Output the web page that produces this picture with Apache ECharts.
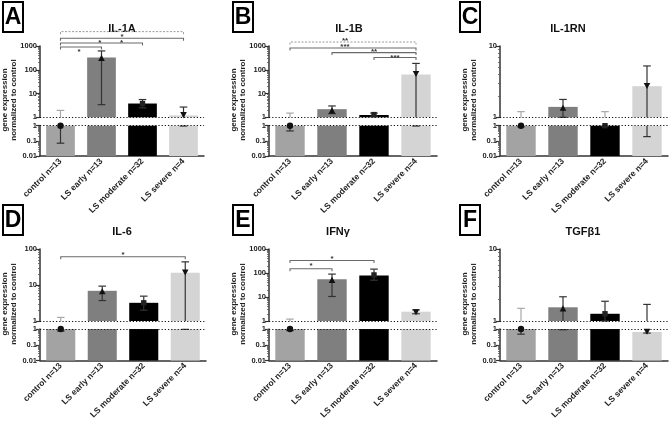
<!DOCTYPE html>
<html><head><meta charset="utf-8">
<script src="https://cdn.jsdelivr.net/npm/echarts@6/dist/echarts.min.js"></script>
<style>html,body{margin:0;padding:0;background:#fff}#c{width:670px;height:423px}</style>
</head><body><div id="c"></div>
<script>
// ---------- DATA ----------
const categories = ['control n=13', 'LS early n=13', 'LS moderate n=32', 'LS severe n=4'];
const panelLetters = ['A', 'B', 'C', 'D', 'E', 'F'];
const panelTitles = ['IL-1A', 'IL-1B', 'IL-1RN', 'IL-6', 'IFNγ', 'TGFβ1'];
const upperMax = [1000, 1000, 10, 100, 1000, 10];
const lowerMin = 0.01;
const yAxisName = 'gene expression\nnormalized to control';

// bar height, marker, error low, error high (per category)
const il1aBar = [1, 330, 3.8, 1.2];
const il1aMarker = [1, 300, 3.8, 1.3];
const il1aLow = [0.07, 3.4, 2.5, 0.95];
const il1aHigh = [1.95, 620, 5.6, 2.7];

const il1bBar = [1, 2.2, 1.25, 63];
const il1bMarker = [1, 1.85, 1.3, 70];
const il1bLow = [0.45, 1.43, 1.1, 0.95];
const il1bHigh = [1.5, 3.0, 1.5, 185];

const il1rnBar = [1, 1.4, 1, 2.73];
const il1rnMarker = [1, 1.34, 1, 2.8];
const il1rnLow = [0.85, 1.0, 0.9, 0.19];
const il1rnHigh = [1.2, 1.78, 1.2, 5.25];

const il6Bar = [1, 6.9, 3.2, 22];
const il6Marker = [1, 6.5, 3.2, 23];
const il6Low = [0.74, 3.7, 2.0, 0.95];
const il6High = [1.26, 9.3, 4.9, 44];

const ifngBar = [1, 55, 79, 2.45];
const ifngMarker = [1, 49, 83, 2.45];
const ifngLow = [0.8, 10.5, 50, 2.0];
const ifngHigh = [1.2, 90, 145, 2.9];

const tgfb1Bar = [1, 1.55, 1.26, 0.65];
const tgfb1Marker = [1, 1.47, 1.26, 0.72];
const tgfb1Low = [0.47, 0.9, 1.0, 0.55];
const tgfb1High = [1.5, 2.17, 1.88, 1.7];

// significance brackets: [fromCategory, toCategory, yValue, dashed(1/0)]
const il1aBrackets = [[0, 3, 4020, 1], [0, 3, 2110, 0], [0, 2, 1340, 0], [0, 1, 906, 0]];
const il1bBrackets = [[0, 3, 1470, 1], [0, 3, 824, 0], [1, 3, 528, 0], [2, 3, 326, 0]];
const il1rnBrackets = [];
const il6Brackets = [[0, 3, 61, 0]];
const ifngBrackets = [[0, 2, 333, 0], [0, 1, 150, 0]];
const tgfb1Brackets = [];
// stars: [categoryPosition, yValue, numberOfStars]
const il1aStars = [[1.5, 2910, 1], [0.96, 1675, 1], [1.49, 1675, 1], [0.45, 676, 1]];
const il1bStars = [[1.31, 2040, 2], [1.31, 1150, 3], [2.0, 660, 2], [2.5, 380, 3]];
const il1rnStars = [];
const il6Stars = [[1.5, 79, 1]];
const ifngStars = [[1.0, 490, 1], [0.5, 235, 1]];
const tgfb1Stars = [];

// ---------- BUILD ----------
const panels = [
  {bar: il1aBar, mark: il1aMarker, lo: il1aLow, hi: il1aHigh, br: il1aBrackets, st: il1aStars},
  {bar: il1bBar, mark: il1bMarker, lo: il1bLow, hi: il1bHigh, br: il1bBrackets, st: il1bStars},
  {bar: il1rnBar, mark: il1rnMarker, lo: il1rnLow, hi: il1rnHigh, br: il1rnBrackets, st: il1rnStars},
  {bar: il6Bar, mark: il6Marker, lo: il6Low, hi: il6High, br: il6Brackets, st: il6Stars},
  {bar: ifngBar, mark: ifngMarker, lo: ifngLow, hi: ifngHigh, br: ifngBrackets, st: ifngStars},
  {bar: tgfb1Bar, mark: tgfb1Marker, lo: tgfb1Low, hi: tgfb1High, br: tgfb1Brackets, st: tgfb1Stars}
];

const FONT = 'Liberation Sans, Arial, sans-serif';
const barColors = ['#a3a3a3', '#7f7f7f', '#000000', '#d4d4d4'];
const geom = [
  {left: 40, width: 164, row: 0, titleX: 122, boxX: 3},
  {left: 269, width: 168, row: 0, titleX: 349, boxX: 233},
  {left: 500, width: 168, row: 0, titleX: 568, boxX: 460},
  {left: 40, width: 166, row: 1, titleX: 122, boxX: 3},
  {left: 269, width: 168, row: 1, titleX: 338, boxX: 233},
  {left: 500, width: 168, row: 1, titleX: 583, boxX: 460}
];
const rows = [
  {ut: 46, uh: 71.3, lt: 125.7, lh: 30.3, titleY: 28.5, boxY: 2, nameY: 100},
  {ut: 249, uh: 72, lt: 329, lh: 31.5, titleY: 231.5, boxY: 205, nameY: 304}
];

function markerShape(i, x, y) {
  const c = '#111';
  if (i === 0) return {type: 'circle', shape: {cx: x, cy: y, r: 3.2}, style: {fill: c}};
  if (i === 1) return {type: 'polygon', shape: {points: [[x, y - 3.6], [x - 3.3, y + 2.5], [x + 3.3, y + 2.5]]}, style: {fill: c}};
  if (i === 2) return {type: 'rect', shape: {x: x - 2.7, y: y - 2.7, width: 5.4, height: 5.4}, style: {fill: '#222'}};
  return {type: 'polygon', shape: {points: [[x, y + 3.6], [x - 3.3, y - 2.5], [x + 3.3, y - 2.5]]}, style: {fill: c}};
}
function seg(x1, y1, x2, y2, color, w) {
  return {type: 'line', shape: {x1, y1, x2, y2}, style: {stroke: color, lineWidth: w || 1.2}};
}
function tickFmt(v) { return String(+Number(v).toPrecision(6)); }

const grids = [], xAxes = [], yAxes = [], series = [], graphics = [];
const axisColor = '#333';
const dotLine = {type: [1.2, 2], color: '#111', width: 1.2};

panels.forEach((p, k) => {
  const g = geom[k], r = rows[g.row];
  const gu = 2 * k, gl = 2 * k + 1;
  grids.push({left: g.left, top: r.ut, width: g.width, height: r.uh});
  grids.push({left: g.left, top: r.lt, width: g.width, height: r.lh});
  xAxes.push({type: 'category', gridIndex: gu, data: categories, show: false});
  xAxes.push({
    type: 'category', gridIndex: gl, data: categories,
    axisLine: {onZero: false, lineStyle: {color: axisColor, width: 1.5}},
    axisTick: {alignWithLabel: true, length: 3, lineStyle: {color: axisColor, width: 1.2}},
    axisLabel: {rotate: 45, interval: 0, fontSize: 8.5, fontWeight: 'bold', color: '#222', margin: 4, fontFamily: FONT}
  });
  const yCommon = {
    type: 'log', logBase: 10,
    axisLine: {show: true, onZero: false, lineStyle: {color: axisColor, width: 1.5}},
    axisTick: {show: true, length: 4, lineStyle: {color: axisColor, width: 1.2}},
    minorTick: {show: true, splitNumber: 9, length: 2, lineStyle: {color: '#555', width: 0.8}},
    splitLine: {show: false},
    axisLabel: {fontSize: 7.5, fontWeight: 'bold', color: '#222', margin: 3, fontFamily: FONT, showMinLabel: true, showMaxLabel: true, formatter: tickFmt}
  };
  yAxes.push(Object.assign({}, yCommon, {gridIndex: gu, min: 1, max: upperMax[k]}));
  yAxes.push(Object.assign({}, yCommon, {gridIndex: gl, min: lowerMin, max: 1}));

  const data = categories.map((c, i) => [i, p.bar[i], p.mark[i], p.lo[i], p.hi[i]]);

  // upper segment
  series.push({
    type: 'custom', xAxisIndex: gu, yAxisIndex: gu, data, encode: {x: 0, y: 1}, silent: true,
    renderItem: (params, api) => {
      const i = api.value(0), bar = api.value(1), mk = api.value(2), lo = api.value(3), hi = api.value(4);
      const bw = api.size([1, 1])[0] * 0.7;
      const base = api.coord([i, 1]);
      const x = base[0], y1 = base[1];
      const ch = [];
      if (bar > 1) {
        const yt = api.coord([i, bar])[1];
        ch.push({type: 'rect', shape: {x: x - bw / 2, y: yt, width: bw, height: y1 - yt}, style: {fill: barColors[i]}});
      }
      if (hi > 1) {
        const wc = bar === 1 ? '#a8a8a8' : '#333';
        const yh = api.coord([i, hi])[1];
        const yl = api.coord([i, Math.max(lo, 1)])[1];
        ch.push(seg(x, yl, x, yh, wc));
        ch.push(seg(x - 3.8, yh, x + 3.8, yh, wc));
        if (lo >= 1) ch.push(seg(x - 3.8, yl, x + 3.8, yl, wc));
      }
      if (mk > 1) {
        const ym = api.coord([i, mk])[1];
        ch.push(markerShape(i, x, ym));
      }
      return {type: 'group', children: ch};
    },
    markLine: {symbol: 'none', silent: true, label: {show: false}, lineStyle: dotLine, data: [{yAxis: 1}]}
  });
  // lower segment
  series.push({
    type: 'custom', xAxisIndex: gl, yAxisIndex: gl, data, encode: {x: 0, y: 1}, silent: true,
    renderItem: (params, api) => {
      const i = api.value(0), bar = api.value(1), mk = api.value(2), lo = api.value(3), hi = api.value(4);
      const bw = api.size([1, 1])[0] * 0.7;
      const b = api.coord([i, lowerMin]);
      const x = b[0], yb = b[1];
      const ch = [];
      const yt = api.coord([i, Math.min(bar, 1)])[1];
      ch.push({type: 'rect', shape: {x: x - bw / 2, y: yt, width: bw, height: yb - yt}, style: {fill: barColors[i]}});
      if (lo < 1) {
        const yTop = api.coord([i, Math.min(hi, 1)])[1];
        const yLo = api.coord([i, lo])[1];
        ch.push(seg(x, yTop, x, yLo, '#333'));
        ch.push(seg(x - 3.8, yLo, x + 3.8, yLo, '#333'));
        if (hi <= 1) ch.push(seg(x - 3.8, yTop, x + 3.8, yTop, '#333'));
      }
      if (mk <= 1) {
        const ym = api.coord([i, mk])[1];
        ch.push(markerShape(i, x, ym));
      }
      return {type: 'group', children: ch};
    },
    markLine: {symbol: 'none', silent: true, label: {show: false}, lineStyle: dotLine, data: [{yAxis: 1}]}
  });
  // brackets
  if (p.br.length) {
    series.push({
      type: 'custom', xAxisIndex: gu, yAxisIndex: gu, silent: true, clip: false,
      data: p.br.map(b => [0, b[2], b[0], b[1], b[3]]), encode: {x: 0, y: 1},
      renderItem: (params, api) => {
        const yv = api.value(1), f = api.value(2), t = api.value(3), dashed = api.value(4);
        const c0 = api.coord([0, yv]), c1 = api.coord([1, yv]);
        const step = c1[0] - c0[0];
        const xa = c0[0] + f * step, xb = c0[0] + t * step, y = c0[1];
        const st = dashed ? {stroke: '#9a9a9a', lineWidth: 1, lineDash: [2, 1.5]} : {stroke: '#6a6a6a', lineWidth: 1.1};
        return {type: 'polyline', shape: {points: [[xa, y + 2.5], [xa, y], [xb, y], [xb, y + 2.5]]}, style: Object.assign({fill: null}, st)};
      }
    });
  }
  if (p.st.length) {
    series.push({
      type: 'custom', xAxisIndex: gu, yAxisIndex: gu, silent: true, clip: false,
      data: p.st.map(s => [0, s[1], s[0], s[2]]), encode: {x: 0, y: 1},
      renderItem: (params, api) => {
        const yv = api.value(1), pos = api.value(2), n = api.value(3);
        const c0 = api.coord([0, yv]), c1 = api.coord([1, yv]);
        const x = c0[0] + pos * (c1[0] - c0[0]);
        return {type: 'text', x: x, y: c0[1] + 2, style: {text: '*'.repeat(n), font: 'bold 8px ' + FONT, fill: '#333', align: 'center', verticalAlign: 'middle'}};
      }
    });
  }

  // annotations
  graphics.push({type: 'rect', shape: {x: g.boxX, y: r.boxY, width: 20, height: 30}, style: {fill: 'none', stroke: '#000', lineWidth: 2}});
  graphics.push({type: 'text', x: g.boxX + 10, y: r.boxY + 16, style: {text: panelLetters[k], font: 'bold 23px ' + FONT, fill: '#000', align: 'center', verticalAlign: 'middle'}});
  graphics.push({type: 'text', x: g.titleX, y: r.titleY, style: {text: panelTitles[k], font: 'bold 11px ' + FONT, fill: '#111', align: 'center', verticalAlign: 'middle'}});
  graphics.push({type: 'text', x: g.left - 30.5, y: r.nameY, rotation: Math.PI / 2, style: {text: yAxisName, font: 'bold 8px ' + FONT, lineHeight: 8.5, fill: '#222', align: 'center', verticalAlign: 'middle'}});
});

const chart = echarts.init(document.getElementById('c'), null, {renderer: 'canvas'});
chart.setOption({
  animation: false,
  backgroundColor: '#fff',
  textStyle: {fontFamily: FONT},
  grid: grids, xAxis: xAxes, yAxis: yAxes, series,
  graphic: graphics
});
</script>
</body></html>
